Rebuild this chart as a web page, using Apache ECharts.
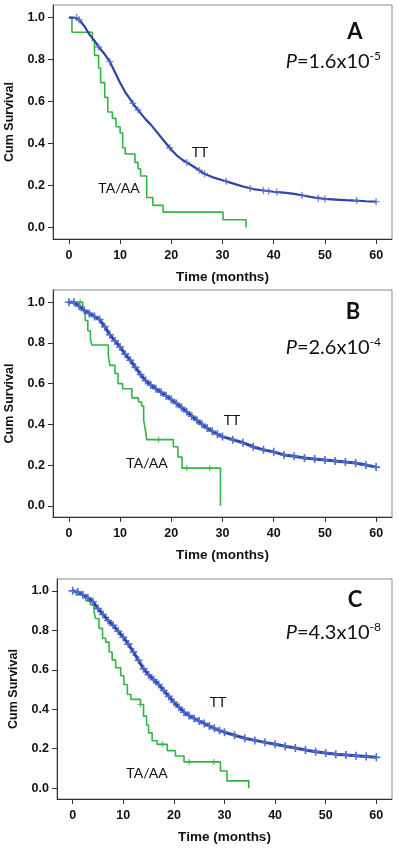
<!DOCTYPE html>
<html><head><meta charset="utf-8">
<script src="https://cdn.jsdelivr.net/npm/echarts@6/dist/echarts.min.js"></script>
<style>html,body{margin:0;padding:0;background:#fff}#c{width:400px;height:850px}</style>
</head><body><div id="c"></div>
<script>
// ---- Data (time in months, cumulative survival) ----
const xTicks = [0, 10, 20, 30, 40, 50, 60];
const yTicks = [0, 0.2, 0.4, 0.6, 0.8, 1.0];
const groupNames = ['TT', 'TA/AA'];
const panelLetters = ['A', 'B', 'C'];
const pMantissa = ['1.6', '2.6', '4.3'];
const pExponent = ['-5', '-4', '-8'];

// Panel A
const ttA = [[0,1.0],[1,1.0],[2,0.99],[3,0.96],[4,0.92],[5,0.89],[6,0.855],[7,0.825],[8,0.79],[9,0.74],[10,0.69],[11,0.645],[12,0.61],[13,0.575],[14,0.545],[15,0.515],[16,0.49],[17,0.46],[18,0.43],[19,0.40],[20,0.37],[21,0.345],[22,0.325],[23,0.31],[24,0.295],[25,0.28],[26,0.262],[27,0.25],[28,0.24],[30,0.225],[32,0.21],[34,0.195],[36,0.183],[38,0.176],[40,0.17],[42,0.166],[44,0.16],[46,0.151],[48,0.142],[50,0.136],[52,0.133],[54,0.13],[56,0.128],[58,0.125],[60,0.123]];
const taA = [[0,1.0],[0.6,0.93],[4.6,0.89],[5.0,0.82],[5.8,0.76],[6.2,0.69],[7.0,0.62],[7.6,0.55],[8.5,0.52],[9.2,0.48],[10.0,0.45],[10.5,0.38],[11.0,0.35],[12.9,0.31],[13.5,0.28],[14.0,0.245],[15.2,0.143],[16.4,0.105],[18.4,0.073],[30.1,0.037],[34.6,0.0]];
const ttCensA = [[1.5,1.0],[2,0.99],[5.8,0.86],[8,0.79],[12.5,0.592],[13.5,0.56],[19.7,0.38],[23,0.31],[25.5,0.272],[26.5,0.256],[30.7,0.22],[35.4,0.186],[38,0.176],[39,0.173],[40.6,0.169],[45.5,0.153],[48.7,0.139],[50,0.136],[56.2,0.128],[60,0.123]];
const taCensA = [];

// Panel B
const ttB = [[0,1.0],[1,1.0],[2,0.98],[3,0.96],[4,0.945],[5,0.93],[6,0.915],[7,0.88],[8,0.84],[9,0.81],[10,0.78],[11,0.745],[12,0.715],[13,0.68],[14,0.645],[15,0.615],[16,0.593],[17,0.575],[18,0.558],[19,0.54],[20,0.522],[21,0.503],[22,0.483],[23,0.462],[24,0.44],[25,0.42],[26,0.4],[27,0.382],[28,0.366],[29,0.352],[30,0.34],[32,0.325],[34,0.31],[36,0.29],[38,0.275],[40,0.265],[42,0.25],[44,0.243],[46,0.235],[48,0.23],[50,0.225],[52,0.22],[54,0.215],[56,0.21],[58,0.2],[60,0.19]];
const taB = [[0,1.0],[2.7,0.96],[3.2,0.91],[3.7,0.86],[4.2,0.82],[4.5,0.79],[7.7,0.74],[8.0,0.69],[9.0,0.65],[9.6,0.60],[10.5,0.575],[12.3,0.53],[13.6,0.51],[14.2,0.49],[14.6,0.42],[14.9,0.38],[15.2,0.325],[20.4,0.29],[21.3,0.24],[22.1,0.185],[29.6,0.0]];
const taCensB = [[2.2,1.0],[17.5,0.325],[23,0.185],[27.5,0.185]];

// Panel C
const ttC = [[0,1.0],[1,0.995],[2,0.98],[3,0.965],[4,0.945],[5,0.91],[6,0.88],[7,0.85],[8,0.825],[9,0.795],[10,0.765],[11,0.73],[12,0.69],[13,0.648],[14,0.605],[15,0.575],[16,0.55],[17,0.525],[18,0.495],[19,0.465],[20,0.435],[21,0.41],[22,0.385],[23,0.368],[24,0.353],[25,0.34],[26,0.328],[27,0.315],[28,0.303],[29,0.292],[30,0.283],[32,0.268],[34,0.253],[36,0.242],[38,0.232],[40,0.222],[42,0.212],[44,0.203],[46,0.193],[48,0.185],[50,0.178],[52,0.172],[54,0.168],[56,0.164],[58,0.16],[60,0.156]];
const taC = [[0,1.0],[0.6,0.98],[2.6,0.95],[3.5,0.93],[4.2,0.90],[4.5,0.86],[5.2,0.81],[5.9,0.76],[6.5,0.74],[7.2,0.69],[7.8,0.65],[8.5,0.61],[9.5,0.57],[10.1,0.525],[10.8,0.475],[11.5,0.45],[13.4,0.424],[14.0,0.365],[14.6,0.32],[15.0,0.28],[15.7,0.24],[16.7,0.222],[18.7,0.19],[20.3,0.163],[22,0.133],[29.2,0.087],[30.5,0.037],[34.8,0.0]];
const taCensC = [[13.4,0.424],[17.7,0.222],[23,0.133],[27.9,0.133]];

// ---- Styling / layout ----
const BLUE = '#2f43a6', BLUE_MARK = '#4f6fcf', GREEN = '#33b443';
const plus = 'path://M4,0H6V4H10V6H6V10H4V6H0V4H4Z';
const grids = [
  {left:53, top:5, right:8, height:234},
  {left:53, top:290, right:8, height:227},
  {left:57, top:579, right:8, height:220}
];
const annot = [
  {letter:[355,32], p:[381,62], tt:[200,152], ta:[119,188]},
  {letter:[353,312], p:[381,348], tt:[232,420], ta:[147,463]},
  {letter:[355,600], p:[381,633], tt:[218,702], ta:[147,773]}
];
const tt = [ttA, ttB, ttC];
const ta = [taA, taB, taC];
const ttCens = [ttCensA, null, null];
const taCens = [taCensA, taCensB, taCensC];

const FONT = 'Liberation Sans';
const option = {
  animation:false,
  backgroundColor:'#fff',
  grid: grids.map(g => Object.assign({show:true, borderColor:'#8a8a8a', borderWidth:1, backgroundColor:'transparent',
    containLabel:false, outerBoundsMode:'none'}, g)),
  xAxis: grids.map((g,i) => ({
    type:'value', gridIndex:i, min:-3.1, max:63.1,
    name:'Time (months)', nameLocation:'middle', nameGap:31,
    nameTextStyle:{fontFamily:FONT, fontWeight:'bold', fontSize:13.5, color:'#111'},
    axisLine:{show:true, onZero:false, lineStyle:{color:'#333', width:1}},
    axisTick:{show:true, length:5, customValues:xTicks, lineStyle:{color:'#333'}},
    axisLabel:{customValues:xTicks, margin:10, fontFamily:FONT, fontWeight:'bold', fontSize:12.5, color:'#111'},
    splitLine:{show:false}
  })),
  yAxis: grids.map((g,i) => ({
    type:'value', gridIndex:i, min:-0.055, max:1.06,
    name:'Cum Survival', nameLocation:'middle', nameGap:37,
    nameTextStyle:{fontFamily:FONT, fontWeight:'bold', fontSize:12.5, color:'#111'},
    axisLine:{show:true, onZero:false, lineStyle:{color:'#333', width:1}},
    axisTick:{show:true, length:5, customValues:yTicks, lineStyle:{color:'#333'}},
    axisLabel:{customValues:yTicks, margin:8, fontFamily:FONT, fontWeight:'bold', fontSize:12.5, color:'#111',
      formatter: v => v.toFixed(1)},
    splitLine:{show:false}
  })),
  series: [],
  graphic: []
};

for (let i = 0; i < 3; i++) {
  option.series.push({
    type:'line', name:groupNames[0], xAxisIndex:i, yAxisIndex:i, data:tt[i],
    showSymbol: i > 0, symbol: plus, symbolSize: 8,
    itemStyle:{color:BLUE_MARK}, lineStyle:{color:BLUE, width: i > 0 ? 3 : 2.2}, z:3
  });
  option.series.push({
    type:'line', name:groupNames[1], xAxisIndex:i, yAxisIndex:i, data:ta[i],
    step:'end', showSymbol:false, lineStyle:{color:GREEN, width:1.6}, z:2
  });
  if (ttCens[i]) option.series.push({
    type:'scatter', xAxisIndex:i, yAxisIndex:i, data:ttCens[i], symbol:plus, symbolSize:7,
    itemStyle:{color:BLUE_MARK}, z:4
  });
  if (taCens[i] && taCens[i].length) option.series.push({
    type:'scatter', xAxisIndex:i, yAxisIndex:i, data:taCens[i], symbol:plus, symbolSize:6,
    itemStyle:{color:GREEN}, z:4
  });
  const a = annot[i];
  option.graphic.push(
    {type:'text', x:a.letter[0], y:a.letter[1], style:{text:panelLetters[i], font:'bold 22px Lato', fill:'#111', align:'center', verticalAlign:'middle'}},
    {type:'text', x:a.p[0], y:a.p[1], style:{
      text:'{i|P}{n|=' + pMantissa[i] + 'x10}{s|' + pExponent[i] + '}',
      align:'right', verticalAlign:'middle',
      rich:{
        i:{fontFamily:'Lato', fontStyle:'italic', fontSize:20, fill:'#111', color:'#111'},
        n:{fontFamily:'Lato', fontSize:20, fill:'#111', color:'#111'},
        s:{fontFamily:'Lato', fontSize:12, fill:'#111', color:'#111', verticalAlign:'top', padding:[0,0,12,0]}
      }}},
    {type:'text', x:a.tt[0], y:a.tt[1], style:{text:groupNames[0], font:'14px Lato', fill:'#111', align:'center', verticalAlign:'middle'}},
    {type:'text', x:a.ta[0], y:a.ta[1], style:{text:groupNames[1], font:'14px Lato', fill:'#111', align:'center', verticalAlign:'middle'}}
  );
}

const chart = echarts.init(document.getElementById('c'), null, {renderer:'canvas'});
chart.setOption(option);
</script>
</body></html>
